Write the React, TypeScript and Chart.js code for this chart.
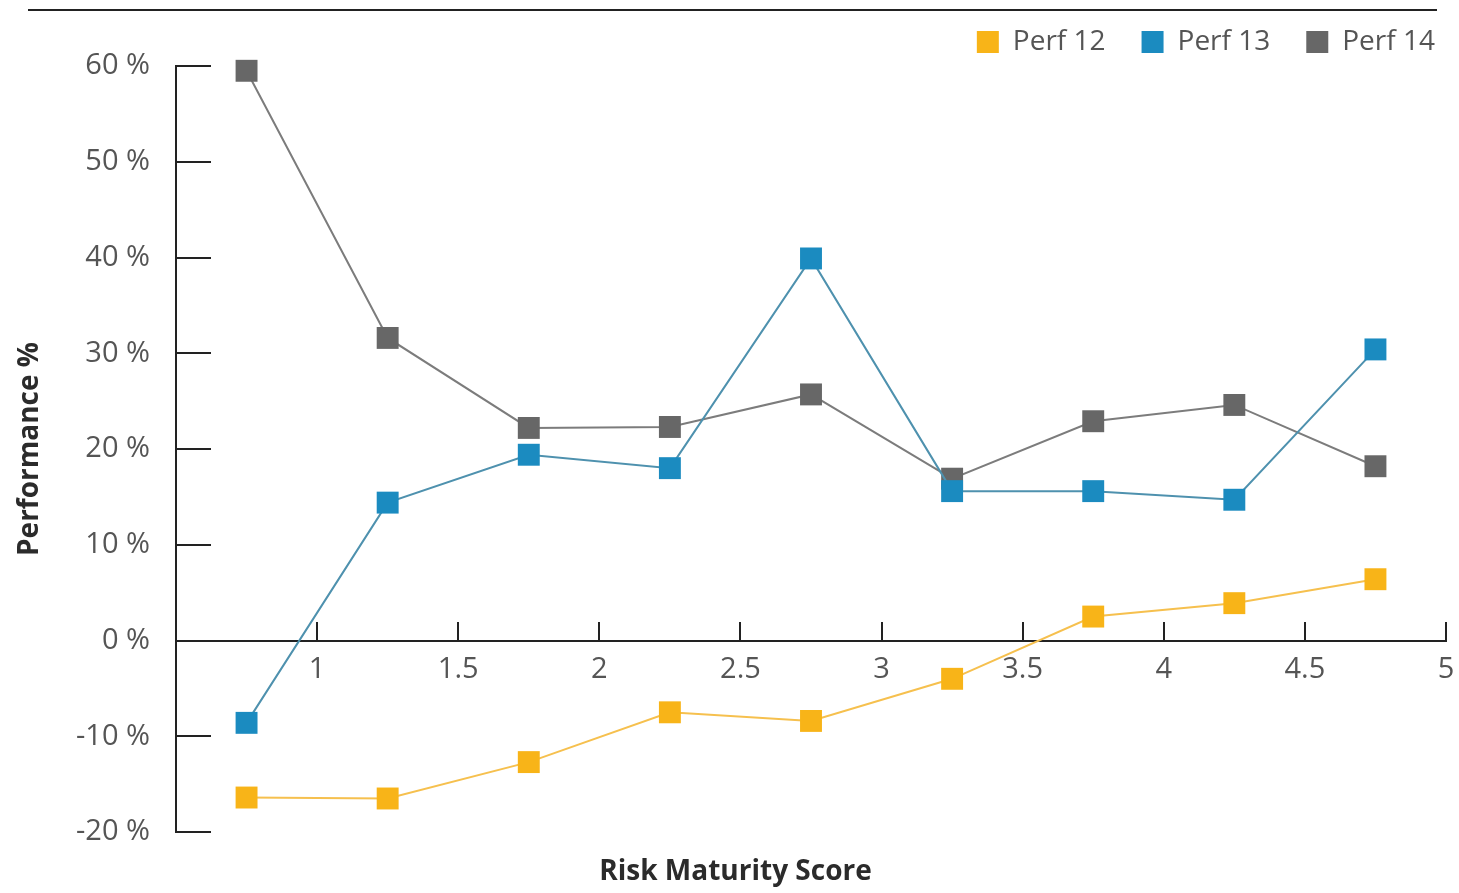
import React, { useEffect, useRef } from 'react';
import { Chart, registerables } from 'chart.js';

Chart.register(...registerables);

const xValues = [0.75, 1.25, 1.75, 2.25, 2.75, 3.25, 3.75, 4.25, 4.75];
const perf12 = [-16.4, -16.5, -12.7, -7.5, -8.4, -4.0, 2.5, 3.9, 6.4];
const perf13 = [-8.6, 14.4, 19.4, 18.0, 39.9, 15.6, 15.6, 14.7, 30.4];
const perf14 = [59.5, 31.6, 22.2, 22.3, 25.7, 16.9, 22.9, 24.6, 18.2];
const xTickValues = [1, 1.5, 2, 2.5, 3, 3.5, 4, 4.5, 5];
const yTickValues = [-20, -10, 0, 10, 20, 30, 40, 50, 60];
const seriesNames = ['Perf 12', 'Perf 13', 'Perf 14'];
const xTitle = 'Risk Maturity Score';
const yTitle = 'Performance %';

const pointColors = ['#F8B418', '#1B8BC0', '#676767'];
const lineColors = ['#F6C04E', '#4E91AE', '#7C7C7C'];
const FONT = "'Open Sans', 'Noto Sans', sans-serif";

// draws the y-axis tick marks pointing into the plot, at the scale's tick pixels
const inwardYTicks = {
  id: 'inwardYTicks',
  afterDraw(chart: any) {
    const y = chart.scales.y;
    const ctx = chart.ctx;
    ctx.save();
    ctx.strokeStyle = '#222222';
    ctx.lineWidth = 2;
    y.ticks.forEach((t: any) => {
      const py = Math.round(y.getPixelForValue(t.value));
      ctx.beginPath();
      ctx.moveTo(y.right, py);
      ctx.lineTo(y.right + 35, py);
      ctx.stroke();
    });
    ctx.restore();
  },
};

export default function App() {
  const ref = useRef<HTMLCanvasElement | null>(null);

  useEffect(() => {
    if (!ref.current) return;
    const series = [perf12, perf13, perf14];
    const datasets = series.map((vals, s) => ({
      label: seriesNames[s],
      data: xValues.map((x, i) => ({ x, y: vals[i] })),
      borderColor: lineColors[s],
      backgroundColor: pointColors[s],
      borderWidth: 2,
      pointStyle: 'rect' as const,
      pointRadius: 15.5,
      pointHoverRadius: 15.5,
      pointBorderWidth: 0,
      pointBackgroundColor: pointColors[s],
      pointBorderColor: pointColors[s],
      tension: 0,
      clip: false as const,
    }));

    const chart = new Chart(ref.current, {
      type: 'line',
      data: { datasets },
      plugins: [inwardYTicks],
      options: {
        responsive: false,
        animation: false,
        layout: { autoPadding: false, padding: { top: -8, right: -12, left: 0, bottom: 2.4 } },
        plugins: {
          tooltip: { enabled: false },
          legend: {
            display: true,
            position: 'top',
            align: 'end',
            labels: {
              boxWidth: 22,
              boxHeight: 22,
              padding: 36,
              color: '#555555',
              font: { family: FONT, size: 28 },
              generateLabels: (c: any) =>
                Chart.defaults.plugins.legend.labels
                  .generateLabels(c)
                  .map((l: any) => ({ ...l, strokeStyle: l.fillStyle, lineWidth: 0 })),
            },
          },
          title: {
            display: true,
            position: 'bottom',
            text: xTitle,
            color: '#2b2b2b',
            font: { family: FONT, size: 28, weight: 'bold' },
            padding: { top: 23, bottom: 2 },
          },
        },
        scales: {
          x: {
            type: 'linear',
            position: { y: 0 } as any,
            min: 0.5,
            max: 5,
            afterBuildTicks: (s: any) => {
              s.ticks = xTickValues.map((v) => ({ value: v }));
            },
            ticks: {
              autoSkip: false,
              maxRotation: 0,
              padding: 0,
              color: '#555555',
              font: { family: FONT, size: 29, lineHeight: 3.4 },
              callback: (v: any) => String(v),
            },
            grid: {
              display: true,
              drawOnChartArea: false,
              drawTicks: true,
              tickLength: -20,
              color: '#222222',
              lineWidth: 2,
            },
            border: { display: true, color: '#222222', width: 2 },
          },
          y: {
            type: 'linear',
            position: 'left',
            min: -20,
            max: 60,
            afterBuildTicks: (s: any) => {
              s.ticks = yTickValues.map((v) => ({ value: v }));
            },
            afterFit: (s: any) => {
              s.width = 176;
            },
            ticks: {
              padding: 26,
              color: '#555555',
              font: { family: FONT, size: 29 },
              callback: (v: any) => `${v} %`,
            },
            grid: {
              display: false,
              drawTicks: false,
            },
            border: { display: true, color: '#222222', width: 2 },
            title: {
              display: true,
              text: yTitle,
              color: '#2b2b2b',
              font: { family: FONT, size: 28, weight: 'bold' },
              padding: { top: 13, bottom: 0 },
            },
          },
          yR: {
            type: 'linear',
            position: 'right',
            display: true,
            ticks: { display: false },
            grid: { display: false, drawTicks: false },
            border: { display: false },
            afterFit: (s: any) => {
              s.width = 25;
            },
          },
        },
      },
    });
    return () => chart.destroy();
  }, []);

  return (
    <div style={{ position: 'fixed', left: 0, top: 0, width: 1459, height: 893, background: '#ffffff' }}>
      <div style={{ position: 'absolute', left: 28, top: 9, width: 1409, height: 2, background: '#222222' }} />
      <canvas ref={ref} width={1459} height={893} style={{ display: 'block' }} />
    </div>
  );
}
